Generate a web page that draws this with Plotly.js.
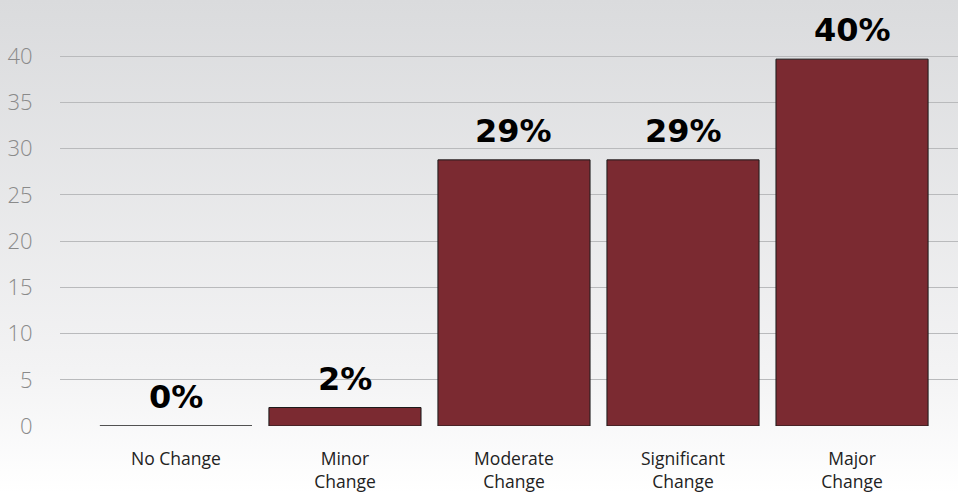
<!DOCTYPE html>
<html>
<head>
<meta charset="utf-8">
<script src="https://cdn.plot.ly/plotly-3.0.1.min.js"></script>
<style>
html,body{margin:0;padding:0;}
#chart{width:958px;height:493px;background:linear-gradient(to bottom,#dadbdd 0%,#f3f3f4 75%,#ffffff 100%);}
</style>
</head>
<body>
<div id="chart"></div>
<script>
const categories = ["No Change", "Minor<br>Change", "Moderate<br>Change", "Significant<br>Change", "Major<br>Change"];
const values = [0, 2, 28.8, 28.8, 39.7];
const valueLabels = ["0%", "2%", "29%", "29%", "40%"];
const yTicks = [0, 5, 10, 15, 20, 25, 30, 35, 40];

const trace = {
  type: "bar",
  x: categories,
  y: values,
  marker: {color: "#7b2a31", line: {color: "#1a1a1a", width: 1}},
  hoverinfo: "none"
};

const annotations = categories.map((c, i) => ({
  x: c, y: values[i], xref: "x", yref: "y",
  text: valueLabels[i], showarrow: false,
  yanchor: "bottom", yshift: 8,
  font: {family: "DejaVu Sans", size: 32, color: "#000000", weight: "bold"}
}));

const layout = {
  width: 958, height: 493,
  margin: {l: 60, r: 0, t: 0, b: 67},
  paper_bgcolor: "rgba(0,0,0,0)",
  plot_bgcolor: "rgba(0,0,0,0)",
  bargap: 0.1,
  showlegend: false,
  xaxis: {
    type: "category",
    range: [-0.686, 4.627],
    showgrid: false, zeroline: false, showline: false,
    ticks: "outside", ticklen: 17, tickcolor: "rgba(0,0,0,0)",
    tickfont: {family: "Open Sans", size: 17.5, color: "#222222"}
  },
  yaxis: {
    range: [0, 46.1],
    tickvals: yTicks,
    showgrid: true, gridcolor: "#b9babc", gridwidth: 1,
    zeroline: true, zerolinecolor: "rgba(0,0,0,0)",
    showline: false,
    ticks: "outside", ticklen: 22, tickcolor: "rgba(0,0,0,0)",
    tickfont: {family: "Open Sans", size: 22, color: "#8a8a8a", weight: 300}
  },
  annotations: annotations
};

Plotly.newPlot("chart", [trace], layout, {staticPlot: true, displayModeBar: false});
</script>
</body>
</html>
